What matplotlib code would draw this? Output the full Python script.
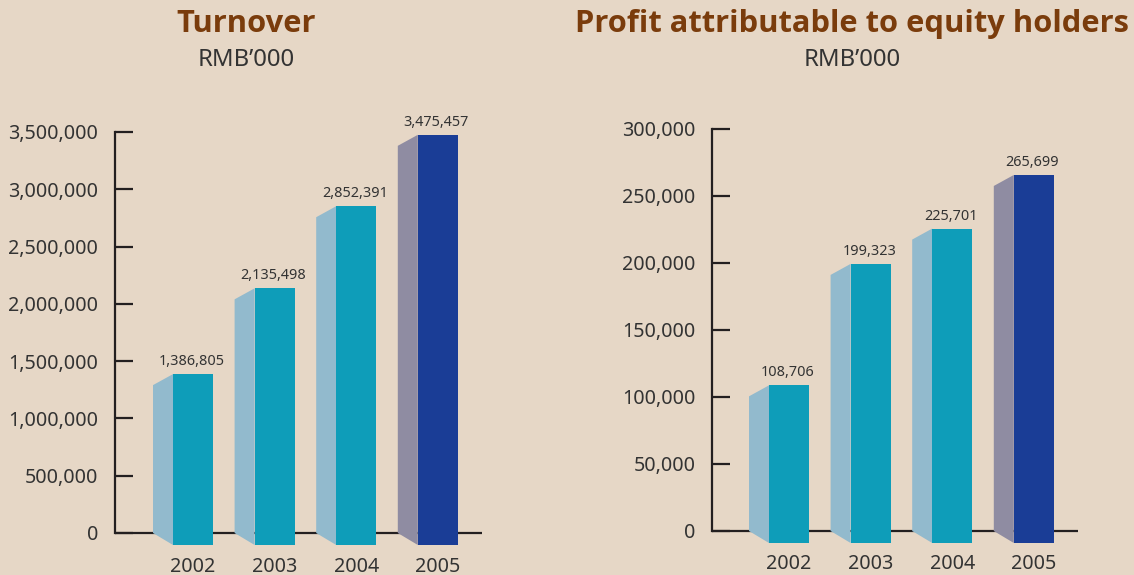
import matplotlib
matplotlib.use("Agg")
import matplotlib.pyplot as plt
from matplotlib.patches import Rectangle, Polygon

plt.rcParams['font.family'] = ['Noto Sans', 'DejaVu Sans']

years = ["2002", "2003", "2004", "2005"]
turnover = [1386805, 2135498, 2852391, 3475457]
profit = [108706, 199323, 225701, 265699]
turnover_ticks = [0, 500000, 1000000, 1500000, 2000000, 2500000, 3000000, 3500000]
profit_ticks = [0, 50000, 100000, 150000, 200000, 250000, 300000]
titles = ["Turnover", "Profit attributable to equity holders"]
unit = "RMB\u2019000"

BG = "#e6d7c6"
TITLE_C = "#7a3c0c"
TEXT_C = "#333333"
AX_C = "#231f20"
FRONT = ["#0e9db9", "#0e9db9", "#0e9db9", "#1a3d96"]
SIDE = ["#92bacd", "#92bacd", "#92bacd", "#8f8ca2"]

W, H = 1134, 575
fig = plt.figure(figsize=(W / 100, H / 100), dpi=100, facecolor=BG)

BAR_SP = 81.6  # px per category
FRONT_W = 40.0
DEPTH = 20.0
DROP = 12.0
DTOP = 11.0


def panel(values, ticks, title, title_x, ax_left, ax_right, first_c, zero_px, top_px, bottom_px, tsize):
    ymax = ticks[-1]
    ppu = (zero_px - top_px) / ymax
    ybot = -(bottom_px - zero_px) / ppu
    ax = fig.add_axes([ax_left / W, 1 - bottom_px / H, (ax_right - ax_left) / W, (bottom_px - top_px) / H])
    ax.set_facecolor("none")
    x0 = -(first_c - ax_left) / BAR_SP
    x1 = x0 + (ax_right - ax_left) / BAR_SP
    ax.set_xlim(x0, x1)
    ax.set_ylim(ybot, ymax)
    for s in ["top", "right", "bottom"]:
        ax.spines[s].set_visible(False)
    ax.spines["left"].set_bounds(0, ymax)
    ax.spines["left"].set_color(AX_C)
    ax.spines["left"].set_linewidth(1.6)
    ax.axhline(0, color=AX_C, lw=1.6, zorder=2)
    ax.set_yticks(ticks, [f"{t:,}" for t in ticks])
    ax.tick_params(axis="y", direction="in", length=13, width=1.6, color=AX_C,
                   pad=12, labelsize=14.2, labelcolor=TEXT_C)
    ax.set_xticks(range(len(years)), years)
    ax.tick_params(axis="x", length=0, pad=6.5, labelsize=14.2, labelcolor=TEXT_C)

    fw = FRONT_W / BAR_SP
    dp = DEPTH / BAR_SP
    drop = DROP / ppu
    dtop = DTOP / ppu
    for i, v in enumerate(values):
        fl = i - fw / 2
        side = Polygon([(fl, v), (fl - dp, v - dtop), (fl - dp, 0), (fl, -drop)],
                       closed=True, facecolor=SIDE[i], edgecolor="none", zorder=3, clip_on=False)
        ax.add_patch(side)
        ax.add_patch(Rectangle((fl, -drop), fw, v + drop, facecolor=FRONT[i],
                               edgecolor="none", zorder=3, clip_on=False))
        ax.annotate(f"{v:,}", (i, v), xytext=(-1, 3.5), textcoords="offset points",
                    ha="center", va="bottom", fontsize=10.4, color=TEXT_C, zorder=4)

    fig.text(title_x / W, 1 - 24 / H, title, ha="center", va="center",
             fontsize=tsize, fontweight="bold", color=TITLE_C,
             family=["Open Sans", "Lato", "DejaVu Sans"])
    fig.text(title_x / W, 1 - 60 / H, unit, ha="center", va="center",
             fontsize=17.2, color=TEXT_C)
    return ax


panel(turnover, turnover_ticks, titles[0], 246, 115, 482, 193, 533, 132, 548, 22.2)
panel(profit, profit_ticks, titles[1], 852, 712, 1078, 789, 531, 129, 545, 22.2)

fig.savefig("out.png", dpi=100, facecolor=BG)
